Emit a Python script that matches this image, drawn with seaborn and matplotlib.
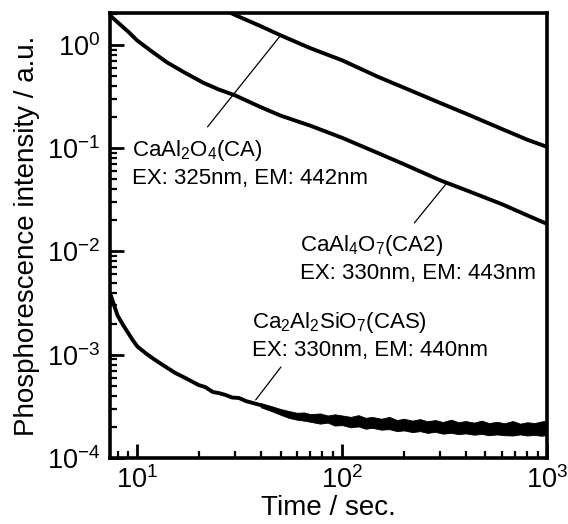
import numpy as np
import pandas as pd
import matplotlib
matplotlib.use("Agg")
import matplotlib.pyplot as plt
import seaborn as sns
from matplotlib.ticker import LogLocator, NullFormatter, FixedLocator

# ---------------- data ----------------
ca_t = [27, 30, 40, 50, 70, 100, 150, 200, 300, 400, 600, 800, 1000]
ca_i = [2.15, 1.95, 1.52, 1.24, 0.93, 0.71, 0.49, 0.386, 0.275, 0.217, 0.154, 0.121, 0.103]

ca2_t = [7.4, 8, 9, 10, 12, 14, 17, 21, 25, 30, 40, 50, 70, 100, 150, 200, 300,
         400, 600, 800, 1000]
ca2_i = [1.91, 1.66, 1.35, 1.10, 0.84, 0.675, 0.54, 0.43, 0.37, 0.325, 0.25, 0.207,
         0.165, 0.126, 0.0895, 0.070, 0.049, 0.0394, 0.0288, 0.0224, 0.0185]

cas_head_t = [7.4, 7.7, 8, 8.5, 9, 9.5, 10, 11, 12, 13.3, 15.3, 17, 19.9, 21.5, 23.3,
              25, 27, 29, 31.3, 34, 36.6]
cas_head_i = [3.8e-3, 3.0e-3, 2.4e-3, 1.95e-3, 1.63e-3, 1.38e-3, 1.2e-3, 1.03e-3,
              9.1e-4, 7.96e-4, 6.66e-4, 6.0e-4, 5.09e-4, 4.85e-4, 4.36e-4, 4.25e-4,
              4.07e-4, 3.85e-4, 3.81e-4, 3.55e-4, 3.41e-4]

cas_tail_t = [40, 45, 50, 55, 60, 65, 70, 78, 85, 92, 100, 110, 120, 130, 140, 155,
              170, 185, 200, 220, 240, 260, 285, 310, 340, 370, 400, 440, 480, 520,
              570, 620, 680, 740, 800, 870, 940, 1000]
cas_tail_i = [3.25, 3.0, 2.8, 2.62, 2.55, 2.5, 2.45, 2.4, 2.36, 2.33, 2.3, 2.26, 2.23,
              2.2, 2.17, 2.14, 2.11, 2.09, 2.07, 2.05, 2.03, 2.01, 2.0, 1.99, 1.97,
              1.96, 1.95, 1.94, 1.93, 1.93, 1.92, 1.92, 1.91, 1.91, 1.9, 1.9, 1.9, 1.9]
cas_tail_hi = [3.4, 3.18, 2.98, 2.85, 2.74, 2.76, 2.66, 2.7, 2.58, 2.65, 2.58, 2.5,
               2.6, 2.45, 2.5, 2.4, 2.5, 2.33, 2.4, 2.3, 2.38, 2.27, 2.33, 2.23, 2.35,
               2.22, 2.28, 2.2, 2.3, 2.18, 2.24, 2.17, 2.28, 2.15, 2.22, 2.18, 2.26, 2.3]
cas_tail_lo = [3.1, 2.85, 2.62, 2.44, 2.35, 2.3, 2.24, 2.15, 2.2, 2.06, 2.08, 1.98,
               2.02, 1.92, 1.96, 1.88, 1.9, 1.82, 1.85, 1.78, 1.82, 1.75, 1.79, 1.72,
               1.75, 1.7, 1.73, 1.68, 1.71, 1.66, 1.69, 1.66, 1.65, 1.69, 1.65, 1.67,
               1.64, 1.67]
tail_scale = 1e-4

labels = ["CaAl$_2$O$_4$(CA)\nEX: 325nm, EM: 442nm",
          "CaAl$_4$O$_7$(CA2)\nEX: 330nm, EM: 443nm",
          "Ca$_2$Al$_2$SiO$_7$(CAS)\nEX: 330nm, EM: 440nm"]
# leader line end points (data coords): text side, curve side
leaders = [((22.0, 0.161), (50.2, 1.25)),
           ((225, 0.0189), (324, 0.046)),
           ((37.8, 3.65e-4), (50.2, 7.6e-4))]
label_pos = [(0.050, 0.661), (0.435, 0.449), (0.325, 0.276)]

minor_ticks = [m * 10.0 ** e for e in range(-5, 4) for m in range(2, 10)]

# ---------------- style ----------------
sns.set_theme(style="ticks")
plt.rcParams["font.family"] = ["Liberation Sans", "DejaVu Sans"]
plt.rcParams["mathtext.fontset"] = "custom"
plt.rcParams["mathtext.rm"] = "Liberation Sans"
plt.rcParams["mathtext.it"] = "Liberation Sans:italic"
plt.rcParams["mathtext.bf"] = "Liberation Sans:bold"
for key in ["text.color", "axes.labelcolor", "xtick.color", "ytick.color",
            "xtick.labelcolor", "ytick.labelcolor", "axes.edgecolor"]:
    plt.rcParams[key] = "black"

fig = plt.figure(figsize=(5.68, 5.24), dpi=100)
ax = fig.add_axes([0.1937, 0.126, 0.7694, 0.8492])
ax.set_xscale("log")
ax.set_yscale("log")

lw = 2.8
cas_t = cas_head_t + cas_tail_t
cas_i = cas_head_i + [v * tail_scale for v in cas_tail_i]

df = pd.concat([
    pd.DataFrame({"t": ca_t, "I": ca_i, "s": "CA"}),
    pd.DataFrame({"t": ca2_t, "I": ca2_i, "s": "CA2"}),
    pd.DataFrame({"t": cas_t, "I": cas_i, "s": "CAS"}),
])
sns.lineplot(data=df, x="t", y="I", hue="s", units="s", estimator=None,
             palette=["black", "black", "black"], linewidth=lw, legend=False,
             ax=ax, sort=False)
ax.fill_between(cas_tail_t, [v * tail_scale for v in cas_tail_lo],
                [v * tail_scale for v in cas_tail_hi], color="black", lw=0.6)

for txt, (x, y), (p0, p1) in zip(labels, label_pos, leaders):
    ax.text(x, y, txt, transform=ax.transAxes, fontsize=16, ha="left",
            va="center", linespacing=1.3, color="black")
    ax.plot([p0[0], p1[0]], [p0[1], p1[1]], color="black", lw=0.9)

ax.set_xlim(7.35, 1000)
ax.set_ylim(1e-4, 2.04)

ax.xaxis.set_major_locator(LogLocator(base=10, numticks=10))
ax.yaxis.set_major_locator(LogLocator(base=10, numticks=10))
ax.xaxis.set_minor_locator(FixedLocator(minor_ticks))
ax.yaxis.set_minor_locator(FixedLocator(minor_ticks))
ax.xaxis.set_minor_formatter(NullFormatter())
ax.yaxis.set_minor_formatter(NullFormatter())

ax.tick_params(axis="both", which="major", direction="in", length=10, width=2,
               labelsize=19.5, top=False, right=False, color="black",
               labelcolor="black")
ax.tick_params(axis="both", which="minor", direction="in", length=5, width=1.6,
               top=False, right=False, bottom=True, left=True, color="black")
ax.tick_params(axis="x", which="major", pad=6)
ax.tick_params(axis="y", which="major", pad=7)

for sp in ax.spines.values():
    sp.set_linewidth(2.6)
    sp.set_color("black")

ax.set_xlabel("Time / sec.", fontsize=20, labelpad=1, color="black")
ax.set_ylabel("Phosphorescence intensity / a.u.", fontsize=20, labelpad=5,
              color="black")

fig.savefig("out.png", dpi=100)
